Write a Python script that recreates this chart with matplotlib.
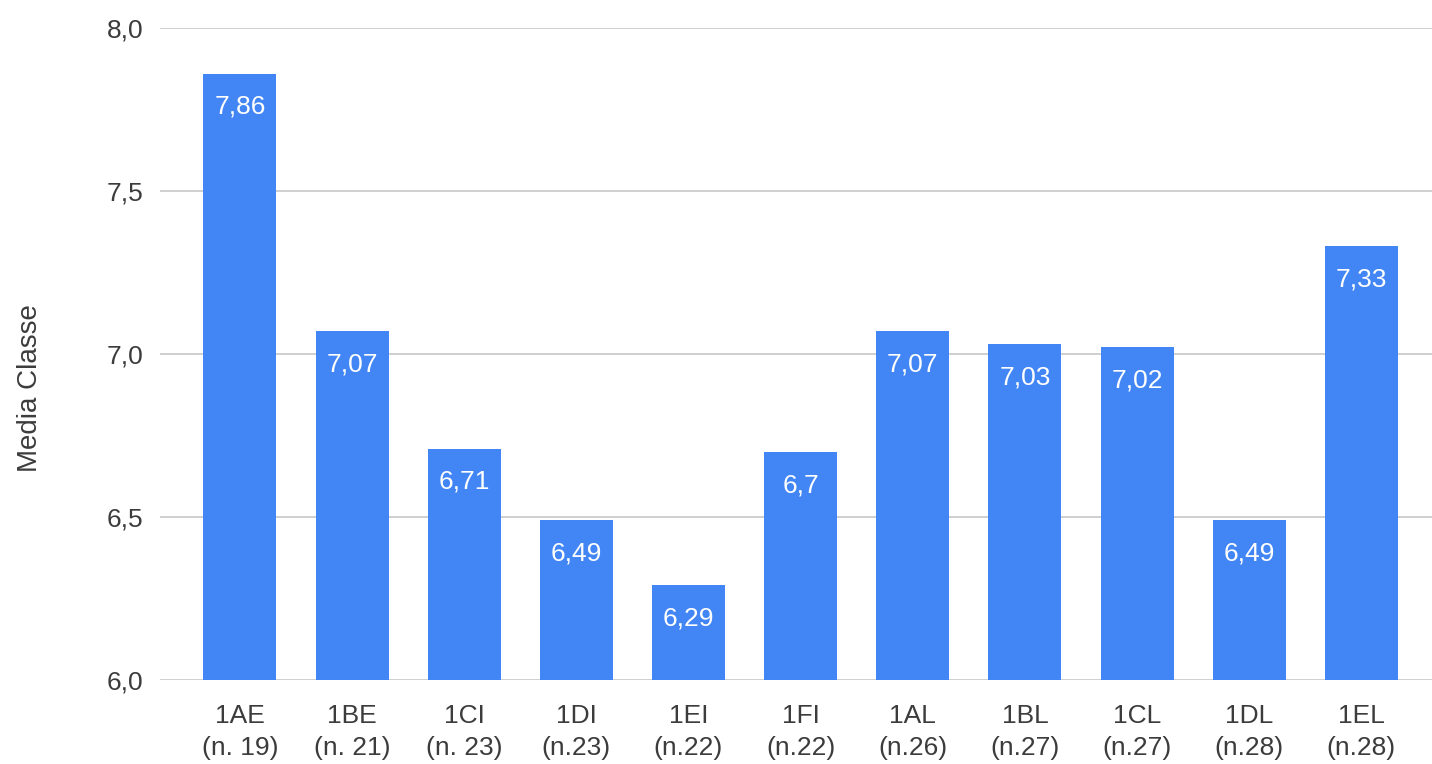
import matplotlib
matplotlib.use('Agg')
import matplotlib.pyplot as plt
from matplotlib.ticker import FuncFormatter, MultipleLocator

# dati: media voti per classe
classi = ["1AE", "1BE", "1CI", "1DI", "1EI", "1FI", "1AL", "1BL", "1CL", "1DL", "1EL"]
numero = ["(n. 19)", "(n. 21)", "(n. 23)", "(n.23)", "(n.22)", "(n.22)",
          "(n.26)", "(n.27)", "(n.27)", "(n.28)", "(n.28)"]
medie = [7.86, 7.07, 6.71, 6.49, 6.29, 6.70, 7.07, 7.03, 7.02, 6.49, 7.33]

plt.rcParams['font.family'] = ['Liberation Sans', 'DejaVu Sans']

fig = plt.figure(figsize=(14.32, 7.64), dpi=100)
ax = fig.add_axes([0.1117, 0.1099, 0.8883, 0.8535])

x = range(len(classi))
bars = ax.bar(x, medie, width=0.65, color='#4285F4', zorder=3)

# etichette dentro le barre
for b, v in zip(bars, medie):
    ax.annotate(f"{v:g}".replace('.', ','),
                xy=(b.get_x() + b.get_width() / 2, v),
                xytext=(0, -24), textcoords='offset points',
                ha='center', va='center', color='white', fontsize=19, zorder=4)

ax.set_ylim(6.0, 8.0)
ax.set_xlim(-0.713, 10.63)
ax.yaxis.set_major_locator(MultipleLocator(0.5))
ax.yaxis.set_major_formatter(FuncFormatter(lambda v, p: f"{v:.1f}".replace('.', ',')))

ax.set_xticks(list(x))
ax.set_xticklabels([f"{c}\n{n}" for c, n in zip(classi, numero)], linespacing=1.45)

ax.grid(axis='y', color='#cccccc', linewidth=1.3, zorder=0)
for s in ax.spines.values():
    s.set_visible(False)
ax.tick_params(axis='both', length=0, labelsize=19, colors='#3c3c3c')
ax.tick_params(axis='y', pad=12)
ax.tick_params(axis='x', pad=17)

# titolo asse y (nel riferimento sta un po' sotto il centro)
fig.text(30 / 1432, 1 - 388 / 764, "Media Classe", rotation=90, fontsize=20,
         color='#3c3c3c', ha='center', va='center')

plt.savefig("out.png", dpi=100)
plt.close(fig)
